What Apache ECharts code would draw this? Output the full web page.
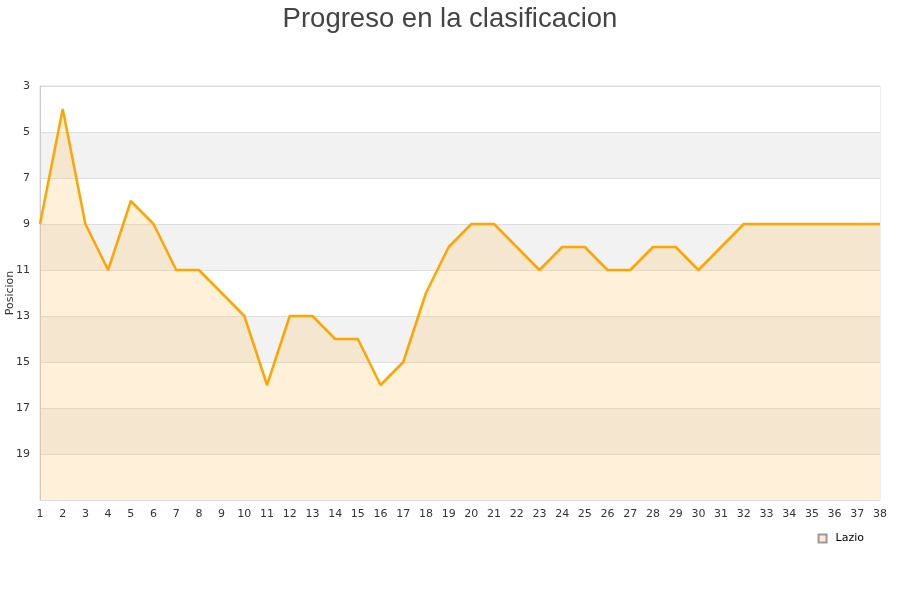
<!DOCTYPE html>
<html><head><meta charset="utf-8">
<script src="https://cdn.jsdelivr.net/npm/echarts@6/dist/echarts.min.js"></script>
<style>html,body{margin:0;padding:0;background:#fff}#c{width:900px;height:600px}</style>
</head><body><div id="c"></div>
<script>
const jornadas = ['1','2','3','4','5','6','7','8','9','10','11','12','13','14','15','16','17','18','19','20','21','22','23','24','25','26','27','28','29','30','31','32','33','34','35','36','37','38'];
const lazio = [9,4,9,11,8,9,11,11,12,13,16,13,13,14,14,16,15,12,10,9,9,10,11,10,10,11,11,10,10,11,10,9,9,9,9,9,9,9];
const seriesName = 'Lazio';
const titleText = 'Progreso en la clasificacion';
const yName = 'Posicion';

const chart = echarts.init(document.getElementById('c'), null, {renderer:'canvas'});
chart.setOption({
  animation:false,
  title:{text:titleText,left:'center',top:0,textStyle:{fontFamily:'Liberation Sans',fontSize:27.5,fontWeight:'normal',color:'#444'}},
  grid:{left:40,right:20,top:86,bottom:100,containLabel:false,outerBoundsMode:'none',show:true,borderColor:'#ddd',borderWidth:1,backgroundColor:'transparent'},
  legend:{data:[{name:seriesName,icon:'rect'}],right:31,top:528,itemWidth:8,itemHeight:8,
    textStyle:{fontFamily:'DejaVu Sans',fontSize:11,color:'#000',padding:[0,0,0,4]}},
  xAxis:{type:'category',data:jornadas,boundaryGap:false,
    axisLine:{show:false},axisTick:{show:false},
    axisLabel:{fontFamily:'DejaVu Sans',fontSize:11,color:'#333',margin:9,interval:0},
    splitLine:{show:false}},
  yAxis:{type:'value',inverse:true,min:3,max:21,interval:2,name:yName,nameLocation:'middle',nameGap:24,nameMoveOverlap:false,
    nameTextStyle:{fontFamily:'DejaVu Sans',fontSize:11,color:'#333'},
    axisLine:{show:true,lineStyle:{color:'#ccc'}},axisTick:{show:false},
    axisLabel:{fontFamily:'DejaVu Sans',fontSize:11,color:'#333',margin:10,formatter:v=>v===21?'':String(v)},
    splitLine:{show:true,lineStyle:{color:'#ddd'}},
    splitArea:{show:true,areaStyle:{color:['#ffffff','#f2f2f2']}}},
  series:[{name:seriesName,type:'line',data:lazio,symbol:'none',
    lineStyle:{color:'#FFA500',width:2.5},itemStyle:{color:'#FFEBCB',borderColor:'#999',borderWidth:1},
    areaStyle:{origin:'end',color:'rgba(255,195,90,0.33)'}}]
});
</script></body></html>
